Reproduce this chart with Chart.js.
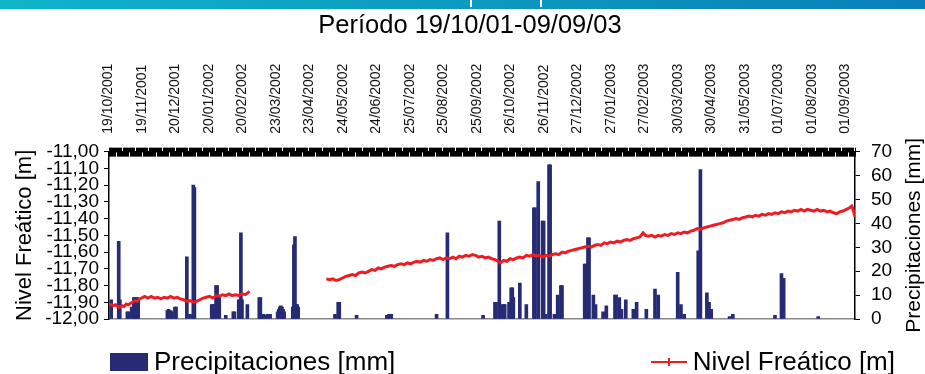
<!DOCTYPE html>
<html>
<head>
<meta charset="utf-8">
<script src="https://cdn.jsdelivr.net/npm/chart.js@4.4.0/dist/chart.umd.min.js"></script>
<style>
  html, body { margin: 0; padding: 0; background: #fff; }
  #wrap { position: relative; width: 925px; height: 374px; overflow: hidden; font-family: 'Liberation Sans', Arial, sans-serif; }
  #banner { position: absolute; left: 0; top: 0; width: 925px; height: 9px; background: linear-gradient(to right, #0fb5c9, #0a7fb8); z-index: 2; }
  .notch { position: absolute; top: 0; width: 2px; height: 7px; background: #fff; }
  #c { position: absolute; left: 0; top: 0; }
  #legend { position: absolute; left: 110px; top: 346px; width: 785px; display: flex; justify-content: space-between; align-items: center; font-size: 26px; color: #000; z-index: 2; }
  .item { display: flex; align-items: center; white-space: nowrap; }
  .box { width: 38px; height: 18px; margin-right: 6px; }
  .line { position: relative; width: 36px; height: 2px; margin-right: 6px; }
  .line span { position: absolute; left: 17px; top: -3px; width: 2px; height: 8px; }
</style>
</head>
<body>
<div id="wrap">
  <div id="banner"><div class="notch" style="left:470px"></div><div class="notch" style="left:540px"></div></div>
  <canvas id="c" width="925" height="374"></canvas>
  <div id="legend"></div>
</div>
<script>
// date labels shown every 31 days on the top axis (day 0 = 19/10/2001)
var dateLabels = ['19/10/2001', '19/11/2001', '20/12/2001', '20/01/2002', '20/02/2002', '23/03/2002',
    '23/04/2002', '24/05/2002', '24/06/2002', '25/07/2002', '25/08/2002', '25/09/2002', '26/10/2002',
    '26/11/2002', '27/12/2002', '27/01/2003', '27/02/2003', '30/03/2003', '30/04/2003', '31/05/2003',
    '01/07/2003', '01/08/2003', '01/09/2003'];
var labelStep = 31;
var lastDay = 690; // 09/09/2003

// daily rainfall [day, mm]
var rainfall = [
    [2, 8], [9, 32.5], [10, 8], [17, 3], [18, 3], [21, 5], [23, 9], [24, 9], [25, 9], [26, 9], [27, 8],
    [54, 3.5], [55, 4], [57, 3.5], [58, 3], [61, 5], [62, 5], [72, 26], [75, 2], [78, 56], [79, 55],
    [95, 6], [96, 6], [97, 6], [99, 14], [100, 14], [102, 9], [108, 1.5], [115, 3], [116, 3],
    [120, 8], [121, 8], [122, 36], [123, 8], [128, 6],
    [139, 9], [140, 9], [141, 2], [143, 2], [145, 1.5], [147, 2], [149, 2],
    [156, 3], [157, 4], [158, 5], [159, 5.5], [160, 5], [161, 4], [162, 3],
    [170, 5], [171, 31], [172, 34.5], [173, 6], [174, 6], [175, 5],
    [209, 2], [212, 7], [213, 7], [229, 1.5], [257, 1.5], [259, 2], [261, 2],
    [303, 2], [313, 36], [346, 1.5], [357, 7], [358, 7], [361, 41], [362, 3], [364, 6], [365, 6], [366, 6],
    [370, 7], [372, 13], [373, 13], [374, 9], [380, 15], [386, 6],
    [393, 46.5], [394, 46.5], [397, 57.5], [401, 41], [402, 41], [404, 2], [407, 64.5], [408, 64.5],
    [412, 2], [415, 10], [418, 14], [419, 14],
    [440, 23], [441, 23], [443, 34], [444, 34], [448, 10], [450, 6], [457, 3], [460, 5.5],
    [468, 10], [469, 10], [472, 9], [474, 4], [478, 8], [485, 4], [488, 7], [497, 4],
    [505, 12.5], [508, 10], [526, 19.5], [529, 6], [532, 2], [545, 28.5], [547, 62.5],
    [553, 11], [555, 7], [557, 4], [574, 1], [577, 2], [616, 1.5], [622, 19], [624, 17], [656, 1]
];

// water table level [day, m]; null marks the gap in the record
var waterLevel = [
    [0, -11.91], [2, -11.915], [4, -11.92], [6, -11.915], [8, -11.925], [10, -11.93], [12, -11.92],
    [14, -11.925], [16, -11.91], [18, -11.915], [20, -11.905], [22, -11.9], [24, -11.89], [26, -11.895],
    [28, -11.88], [30, -11.875], [33, -11.865], [36, -11.875], [39, -11.865], [42, -11.875], [45, -11.87],
    [48, -11.88], [51, -11.87], [54, -11.875], [57, -11.865], [60, -11.875], [63, -11.87], [66, -11.88],
    [69, -11.885], [72, -11.895], [75, -11.89], [78, -11.9], [81, -11.895], [84, -11.885], [87, -11.875],
    [90, -11.87], [93, -11.865], [96, -11.875], [99, -11.86], [102, -11.865], [105, -11.855], [108, -11.86],
    [111, -11.85], [114, -11.86], [117, -11.855], [120, -11.86], [123, -11.85], [126, -11.855],
    [128, -11.845], [130, -11.835],
    [165, null],
    [201, -11.76], [204, -11.765], [207, -11.76], [210, -11.77], [213, -11.765], [216, -11.755],
    [219, -11.745], [222, -11.74], [225, -11.735], [228, -11.74], [231, -11.725], [234, -11.72],
    [237, -11.725], [240, -11.715], [243, -11.705], [246, -11.71], [249, -11.695], [252, -11.7],
    [255, -11.69], [258, -11.685], [261, -11.68], [264, -11.685], [267, -11.675], [270, -11.67],
    [273, -11.675], [276, -11.665], [279, -11.67], [282, -11.66], [285, -11.655], [288, -11.66],
    [291, -11.65], [294, -11.655], [297, -11.645], [300, -11.65], [303, -11.64], [306, -11.635],
    [309, -11.645], [312, -11.635], [315, -11.64], [318, -11.63], [321, -11.64], [324, -11.625],
    [327, -11.63], [330, -11.62], [333, -11.625], [336, -11.615], [339, -11.62], [342, -11.63],
    [345, -11.625], [348, -11.635], [351, -11.63], [354, -11.64], [357, -11.645], [360, -11.655],
    [362, -11.665], [365, -11.65], [368, -11.655], [371, -11.64], [374, -11.645], [377, -11.635],
    [380, -11.63], [383, -11.635], [386, -11.62], [389, -11.625], [392, -11.615], [395, -11.625],
    [398, -11.62], [401, -11.63], [404, -11.62], [407, -11.625], [410, -11.615], [413, -11.61],
    [416, -11.615], [419, -11.6], [422, -11.605], [425, -11.595], [428, -11.59], [431, -11.585],
    [434, -11.58], [437, -11.575], [440, -11.57], [443, -11.565], [446, -11.57], [449, -11.56],
    [452, -11.555], [455, -11.56], [458, -11.545], [461, -11.55], [464, -11.54], [467, -11.545],
    [470, -11.535], [473, -11.54], [476, -11.53], [479, -11.525], [482, -11.53], [485, -11.52],
    [488, -11.515], [491, -11.51], [494, -11.485], [496, -11.5], [499, -11.505], [502, -11.5],
    [505, -11.51], [508, -11.5], [511, -11.505], [514, -11.495], [517, -11.5], [520, -11.49],
    [523, -11.495], [526, -11.485], [529, -11.49], [532, -11.48], [535, -11.485], [538, -11.475],
    [541, -11.47], [544, -11.46], [547, -11.465], [550, -11.455], [553, -11.45], [556, -11.445],
    [559, -11.44], [562, -11.435], [565, -11.43], [568, -11.425], [571, -11.415], [574, -11.41],
    [577, -11.405], [580, -11.4], [583, -11.405], [586, -11.395], [589, -11.39], [592, -11.385],
    [595, -11.39], [598, -11.38], [601, -11.385], [604, -11.375], [607, -11.38], [610, -11.37],
    [613, -11.375], [616, -11.365], [619, -11.37], [622, -11.36], [625, -11.365], [628, -11.355],
    [631, -11.36], [634, -11.35], [637, -11.355], [640, -11.345], [643, -11.355], [646, -11.345],
    [649, -11.35], [652, -11.355], [655, -11.345], [658, -11.355], [661, -11.35], [664, -11.36],
    [667, -11.355], [670, -11.365], [673, -11.37], [676, -11.36], [679, -11.355], [682, -11.345],
    [685, -11.335], [687, -11.325], [688, -11.34], [690, -11.39]
];

var FONT = "'Liberation Sans', Arial, sans-serif";
Chart.defaults.font.family = FONT;
Chart.defaults.color = '#000';

// the top axis ticks cross the axis line: draw the inner half
var crossTicks = {
    id: 'crossTicks',
    afterDatasetsDraw: function (chart) {
        var s = chart.scales.x, ctx = chart.ctx, top = chart.chartArea.top;
        ctx.save();
        ctx.strokeStyle = '#000';
        ctx.lineWidth = 1;
        ctx.beginPath();
        s.ticks.forEach(function (t) {
            var px = Math.round(s.getPixelForValue(t.value)) + 0.5;
            ctx.moveTo(px, top);
            ctx.lineTo(px, top + 5);
        });
        ctx.stroke();
        ctx.restore();
    }
};

// right axis title reads bottom to top, like the left one
var rightTitle = {
    id: 'rightTitle',
    afterDraw: function (chart) {
        var ctx = chart.ctx, a = chart.chartArea;
        ctx.save();
        ctx.translate(914, (a.top + a.bottom) / 2);
        ctx.rotate(-Math.PI / 2);
        ctx.font = '21px ' + FONT;
        ctx.fillStyle = '#000';
        ctx.textAlign = 'center';
        ctx.textBaseline = 'middle';
        ctx.fillText('Precipitaciones [mm]', 0, 0);
        ctx.restore();
    }
};

var chart = new Chart(document.getElementById('c'), {
    type: 'bar',
    data: {
        datasets: [{
            type: 'bar',
            label: 'Precipitaciones [mm]',
            data: rainfall.map(function (p) { return { x: p[0], y: p[1] }; }),
            xAxisID: 'x',
            yAxisID: 'y1',
            backgroundColor: '#262b74',
            barThickness: 3,
            order: 2
        }, {
            type: 'line',
            label: 'Nivel Freático [m]',
            data: waterLevel.map(function (p) { return { x: p[0], y: p[1] }; }),
            xAxisID: 'x',
            yAxisID: 'y',
            borderColor: '#ee1d23',
            borderWidth: 3,
            pointRadius: 0,
            spanGaps: false,
            tension: 0,
            order: 1
        }]
    },
    options: {
        responsive: false,
        animation: false,
        // uneven side padding keeps the title centred where the original has it
        layout: { padding: { left: 22, right: 7, top: 0, bottom: 55 } },
        plugins: {
            legend: { display: false },
            tooltip: { enabled: false },
            title: {
                display: true,
                text: 'Período 19/10/01-09/09/03',
                color: '#000',
                font: { size: 25.5, weight: 'normal' },
                padding: { top: 11, bottom: 8 }
            }
        },
        scales: {
            x: {
                type: 'linear',
                position: 'top',
                min: 0,
                max: lastDay,
                offset: false,
                grid: { drawOnChartArea: false, tickLength: 4, color: '#000', offset: false },
                border: { color: '#000', width: 1.5 },
                ticks: {
                    stepSize: 1,
                    autoSkip: false,
                    minRotation: 90,
                    maxRotation: 90,
                    padding: 14,
                    labelOffset: 16,
                    color: '#111',
                    font: { size: 14 },
                    callback: function (v) {
                        return v % labelStep === 0 ? (dateLabels[v / labelStep] || '') : '';
                    }
                }
            },
            xb: {
                type: 'linear',
                position: 'bottom',
                min: 0,
                max: lastDay,
                grid: { display: false, drawTicks: false },
                ticks: { display: false },
                border: { color: '#888', width: 1.5 }
            },
            y: {
                position: 'left',
                min: -12,
                max: -11,
                afterFit: function (s) { s.width = 87; },
                grid: { drawOnChartArea: false, tickLength: 5, color: '#000' },
                border: { color: '#000', width: 1.5 },
                ticks: {
                    stepSize: 0.1,
                    autoSkip: false,
                    padding: 5,
                    font: { size: 19 },
                    callback: function (v) { return v.toFixed(2).replace('.', ','); }
                },
                title: {
                    display: true,
                    text: 'Nivel Freático [m]',
                    font: { size: 22 },
                    padding: { top: -10, bottom: 0 }
                }
            },
            y1: {
                position: 'right',
                min: 0,
                max: 70,
                afterFit: function (s) { s.width = 63; },
                grid: { drawOnChartArea: false, tickLength: 5, color: '#000' },
                border: { color: '#000', width: 1.5 },
                ticks: { stepSize: 10, autoSkip: false, padding: 11, font: { size: 19 } }
            }
        }
    },
    plugins: [crossTicks, rightTitle]
});

// legend below the plot, items pushed to both ends as in the original
(function () {
    var box = document.getElementById('legend');
    chart.data.datasets.forEach(function (ds) {
        var item = document.createElement('div');
        item.className = 'item';
        var mark = document.createElement('div');
        if (ds.type === 'bar') {
            mark.className = 'box';
            mark.style.background = ds.backgroundColor;
        } else {
            mark.className = 'line';
            mark.style.background = ds.borderColor;
            var tick = document.createElement('span');
            tick.style.background = ds.borderColor;
            mark.appendChild(tick);
        }
        item.appendChild(mark);
        item.appendChild(document.createTextNode(ds.label));
        box.appendChild(item);
    });
})();
</script>
</body>
</html>
